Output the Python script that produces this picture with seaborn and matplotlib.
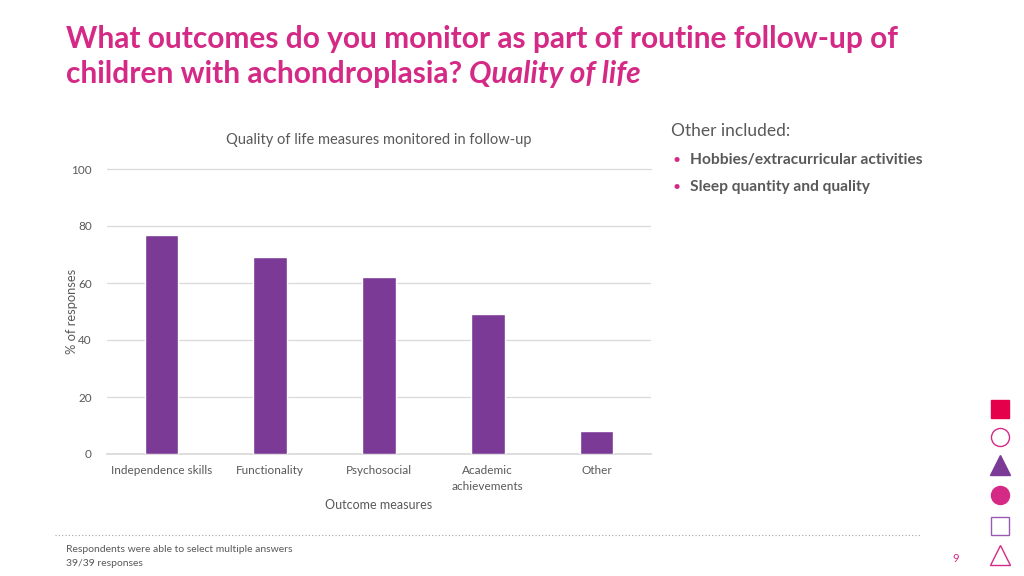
import matplotlib
matplotlib.use("Agg")
import matplotlib.pyplot as plt
from matplotlib.lines import Line2D
import seaborn as sns
import pandas as pd

# Data
categories = ["Independence skills", "Functionality", "Psychosocial",
              "Academic\nachievements", "Other"]
percent = [77, 69, 62, 49, 8]
y_ticks = [0, 20, 40, 60, 80, 100]
other_items = ["Hobbies/extracurricular activities", "Sleep quantity and quality"]

df = pd.DataFrame({"measure": categories, "pct": percent})

pink = "#D42A86"
purple = "#7B3A96"
gray = "#595959"

sns.set_theme(style="white")
plt.rcParams["font.family"] = ["Lato", "DejaVu Sans"]

fig = plt.figure(figsize=(10.24, 5.76), dpi=100)
ax = fig.add_axes([107 / 1024, 122 / 576, 544 / 1024, 285 / 576])

sns.barplot(data=df, x="measure", y="pct", color=purple, width=0.31,
            saturation=1, ax=ax, zorder=3)

ax.set_ylim(0, 100)
ax.set_yticks(y_ticks)
ax.yaxis.grid(True, color="#D9D9D9", linewidth=0.9, zorder=0)
ax.get_ygridlines()[-1].set_clip_on(False)
for s in ax.spines.values():
    s.set_visible(False)
ax.spines["bottom"].set_visible(True)
ax.spines["bottom"].set_color("#D9D9D9")
ax.tick_params(axis="both", colors=gray, labelsize=8.5, length=0)
ax.tick_params(axis="y", pad=11)
ax.tick_params(axis="x", pad=8)
for lbl in ax.get_xticklabels():
    lbl.set_linespacing(1.55)
ax.set_xlabel("Outcome measures", color=gray, fontsize=9, labelpad=5)
ax.set_ylabel("% of responses", color=gray, fontsize=9.3)
ax.yaxis.set_label_coords((78 - 107) / 544, 0.5)
ax.set_title("Quality of life measures monitored in follow-up", color=gray,
             fontsize=10.5, pad=18)

# Slide title
fig.text(66 / 1024, 1 - 39 / 576,
         "What outcomes do you monitor as part of routine follow-up of",
         color=pink, fontsize=21.5, fontweight="bold", va="center")
t = fig.text(66 / 1024, 1 - 74 / 576, "children with achondroplasia? ",
             color=pink, fontsize=21.5, fontweight="bold", va="center")
fig.canvas.draw()
bb = t.get_window_extent()
fig.text(bb.x1 / 1024, 1 - 74 / 576, "Quality of life", color=pink,
         fontsize=21.5, fontweight="bold", style="italic", va="center")

# Side note
fig.text(671 / 1024, 1 - 131 / 576, "Other included:", color=gray,
         fontsize=12.5, va="center")
for i, item in enumerate(other_items):
    yy = 1 - (160 + 27 * i) / 576
    fig.text(672 / 1024, yy, "•", color=pink, fontsize=10, va="center")
    fig.text(690 / 1024, yy, item, color=gray, fontsize=11.2,
             fontweight="bold", va="center")

# Footer
fig.add_artist(Line2D([55 / 1024, 920 / 1024], [1 - 535 / 576] * 2,
                      transform=fig.transFigure, color="#A6A6A6",
                      linestyle=(0, (1, 2)), linewidth=0.8))
fig.text(66 / 1024, 1 - 549 / 576, "Respondents were able to select multiple answers",
         color=gray, fontsize=7.5, va="center")
fig.text(66 / 1024, 1 - 564 / 576, "39/39 responses", color=gray,
         fontsize=7.5, va="center")
fig.text(952 / 1024, 1 - 559 / 576, "9", color=pink, fontsize=8, va="center")

# Decorative shapes on the right edge
shapes = [("s", "#E4004B", True, 409), ("o", "#D42A86", False, 437),
          ("^", purple, True, 465), ("o", "#D42A86", True, 495),
          ("s", "#9B59B6", False, 526), ("^", "#D42A86", False, 555)]
for m, c, filled, yp in shapes:
    fig.add_artist(Line2D([1000 / 1024], [1 - yp / 576], transform=fig.transFigure,
                          marker=m, markersize=13 if m != "^" else 14,
                          markerfacecolor=c if filled else "white",
                          markeredgecolor=c, markeredgewidth=1.0,
                          linestyle="none"))

fig.savefig("out.png", dpi=100)
